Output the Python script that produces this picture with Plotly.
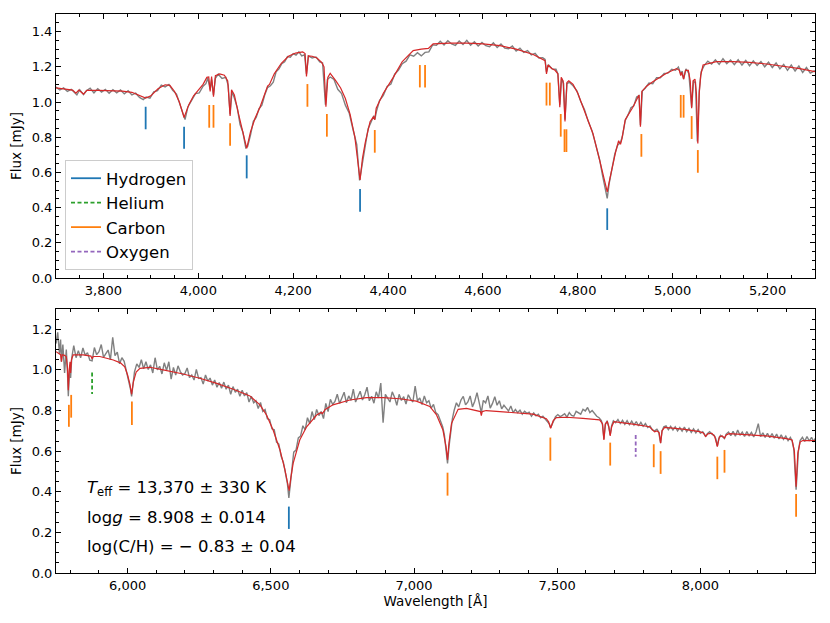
import plotly.graph_objects as go

# ---------------- top panel: model (red) ----------------
top_model_wave = [3700, 3720, 3735, 3742, 3748, 3758, 3765, 3790, 3820, 3840, 3860, 3875, 3889, 3900, 3915,
                  3930, 3940, 3950, 3960, 3970, 3980, 3990, 4000, 4010, 4018, 4022, 4025, 4028, 4032, 4036,
                  4045, 4055, 4062, 4067, 4070, 4076, 4085, 4093, 4102, 4110, 4120, 4130, 4140, 4146, 4150,
                  4160, 4175, 4190, 4205, 4220, 4225, 4228, 4232, 4240, 4250, 4260, 4265, 4269, 4273, 4278,
                  4290, 4300, 4310, 4320, 4330, 4335, 4341, 4346, 4352, 4362, 4369, 4372, 4375, 4390, 4411,
                  4430, 4453, 4470, 4485, 4495, 4530, 4566, 4600, 4636, 4670, 4706, 4727, 4731, 4734, 4737,
                  4745, 4752, 4758, 4762, 4765, 4769, 4773, 4777, 4781, 4790, 4800, 4811, 4822, 4832, 4846,
                  4855, 4862, 4868, 4874, 4880, 4886, 4890, 4893, 4900, 4916, 4927, 4929, 4932, 4935, 4945,
                  4958, 4987, 5008, 5014, 5017, 5019, 5023, 5027, 5033, 5037, 5040, 5043, 5047, 5050, 5053,
                  5056, 5059, 5064, 5092, 5127, 5162, 5198, 5233, 5268, 5300]
top_model_flux = [1.080, 1.072, 1.068, 1.050, 1.068, 1.045, 1.066, 1.066, 1.064, 1.062, 1.055, 1.040, 1.022, 1.035, 1.075,
                  1.098, 1.095, 1.060, 1.000, 0.912, 0.985, 1.035, 1.065, 1.100, 1.140, 1.142, 1.060, 1.145, 1.030, 1.150,
                  1.160, 1.152, 1.120, 0.920, 1.070, 1.040, 0.930, 0.840, 0.737, 0.830, 0.910, 0.970, 1.050, 1.090, 1.100,
                  1.160, 1.220, 1.260, 1.278, 1.285, 1.275, 1.145, 1.262, 1.260, 1.250, 1.225, 1.200, 0.973, 1.140, 1.163,
                  1.120, 1.080, 1.020, 0.930, 0.800, 0.700, 0.557, 0.680, 0.770, 0.888, 0.915, 0.900, 0.965, 1.050, 1.140,
                  1.230, 1.292, 1.300, 1.305, 1.330, 1.335, 1.335, 1.330, 1.320, 1.300, 1.270, 1.240, 1.235, 1.160, 1.210,
                  1.190, 1.180, 1.160, 0.970, 1.140, 1.120, 0.889, 1.110, 1.120, 1.100, 1.050, 0.970, 0.900, 0.820, 0.670,
                  0.570, 0.490, 0.570, 0.650, 0.720, 0.780, 0.760, 0.790, 0.900, 0.970, 1.030, 1.040, 0.860, 1.060, 1.090,
                  1.115, 1.163, 1.190, 1.180, 1.150, 1.170, 1.130, 1.180, 1.180, 1.120, 0.964, 1.120, 1.130, 1.050, 0.765,
                  1.050, 1.150, 1.210, 1.229, 1.229, 1.225, 1.216, 1.205, 1.190, 1.172]

# ---------------- top panel: observed (grey) ----------------
top_obs_wave = [3700, 3708, 3716, 3724, 3732, 3740, 3744, 3750, 3758, 3764, 3772, 3780, 3788, 3796, 3804, 3812,
                3820, 3828, 3836, 3844, 3852, 3860, 3868, 3876, 3884, 3890, 3898, 3906, 3914, 3922, 3930, 3938,
                3946, 3954, 3962, 3968, 3972, 3978, 3986, 3994, 4002, 4010, 4016, 4020, 4025, 4028, 4032, 4036,
                4042, 4050, 4058, 4063, 4067, 4071, 4076, 4082, 4088, 4094, 4100, 4104, 4110, 4116, 4122, 4128,
                4134, 4140, 4146, 4152, 4158, 4164, 4170, 4176, 4182, 4188, 4194, 4200, 4206, 4212, 4218, 4224,
                4228, 4232, 4240, 4248, 4256, 4262, 4268, 4272, 4278, 4286, 4294, 4302, 4310, 4318, 4326, 4334,
                4340, 4346, 4352, 4358, 4364, 4370, 4372, 4376, 4382, 4390, 4398, 4406, 4414, 4422, 4430, 4438,
                4446, 4454, 4462, 4470, 4478, 4486, 4494, 4502, 4510, 4518, 4526, 4534, 4542, 4550, 4558, 4566,
                4574, 4582, 4590, 4598, 4606, 4614, 4622, 4630, 4638, 4646, 4654, 4662, 4670, 4678, 4686, 4694,
                4702, 4710, 4718, 4726, 4731, 4734, 4738, 4746, 4754, 4758, 4762, 4766, 4770, 4773, 4777, 4782,
                4790, 4798, 4806, 4814, 4822, 4830, 4838, 4846, 4852, 4858, 4862, 4866, 4872, 4878, 4884, 4890,
                4894, 4900, 4906, 4912, 4918, 4924, 4929, 4932, 4936, 4942, 4950, 4958, 4966, 4974, 4982, 4990,
                4998, 5006, 5012, 5017, 5020, 5023, 5028, 5034, 5040, 5044, 5048, 5052, 5056, 5060, 5066, 5074,
                5082, 5090, 5098, 5106, 5114, 5122, 5130, 5138, 5146, 5154, 5162, 5170, 5178, 5186, 5194, 5202,
                5210, 5218, 5226, 5234, 5242, 5250, 5258, 5266, 5274, 5282, 5290, 5300]
top_obs_flux = [1.085, 1.068, 1.080, 1.060, 1.072, 1.050, 1.040, 1.070, 1.042, 1.064, 1.078, 1.052, 1.075, 1.056, 1.072, 1.050,
                1.070, 1.052, 1.068, 1.046, 1.064, 1.040, 1.050, 1.026, 1.014, 1.028, 1.022, 1.058, 1.064, 1.096, 1.086, 1.100,
                1.066, 1.045, 0.980, 0.925, 0.900, 0.972, 1.008, 1.048, 1.052, 1.090, 1.104, 1.136, 1.070, 1.128, 1.040, 1.135,
                1.158, 1.134, 1.140, 1.095, 0.930, 1.060, 1.022, 0.968, 0.872, 0.828, 0.740, 0.748, 0.812, 0.890, 0.912, 0.962,
                0.982, 1.040, 1.082, 1.092, 1.112, 1.172, 1.188, 1.218, 1.228, 1.258, 1.255, 1.275, 1.266, 1.285, 1.262, 1.268,
                1.160, 1.262, 1.250, 1.256, 1.228, 1.222, 0.985, 1.128, 1.142, 1.128, 1.072, 1.048, 0.982, 0.938, 0.845, 0.758,
                0.555, 0.668, 0.752, 0.848, 0.882, 0.922, 0.900, 0.952, 1.008, 1.038, 1.088, 1.102, 1.158, 1.182, 1.218, 1.232,
                1.268, 1.260, 1.280, 1.262, 1.282, 1.285, 1.325, 1.322, 1.345, 1.324, 1.348, 1.330, 1.322, 1.346, 1.326, 1.350,
                1.322, 1.342, 1.318, 1.338, 1.320, 1.314, 1.336, 1.310, 1.330, 1.306, 1.302, 1.318, 1.290, 1.306, 1.282, 1.292,
                1.268, 1.276, 1.250, 1.252, 1.242, 1.170, 1.212, 1.188, 1.186, 1.160, 0.985, 1.132, 1.105, 0.900, 1.104, 1.112,
                1.092, 1.064, 1.004, 0.958, 0.890, 0.836, 0.755, 0.672, 0.585, 0.512, 0.452, 0.535, 0.615, 0.705, 0.755, 0.770,
                0.805, 0.895, 0.928, 0.968, 0.978, 1.028, 1.036, 0.870, 1.062, 1.078, 1.108, 1.104, 1.138, 1.138, 1.162, 1.164,
                1.186, 1.180, 1.198, 1.160, 1.176, 1.130, 1.188, 1.162, 0.970, 1.115, 1.112, 0.775, 1.065, 1.172, 1.205, 1.232,
                1.215, 1.240, 1.214, 1.246, 1.218, 1.238, 1.212, 1.240, 1.210, 1.236, 1.206, 1.234, 1.208, 1.230, 1.200, 1.226,
                1.196, 1.222, 1.188, 1.214, 1.180, 1.210, 1.176, 1.204, 1.168, 1.196, 1.164, 1.178]

# ---------------- bottom panel: model (red) ----------------
bot_model_wave = [5750, 5760, 5766, 5769, 5772, 5780, 5786, 5790, 5793, 5796, 5799, 5801, 5804, 5810, 5845, 5872,
                  5876, 5880, 5903, 5950, 5975, 5990, 6000, 6008, 6014, 6020, 6030, 6043, 6078, 6124, 6194, 6252,
                  6311, 6369, 6427, 6462, 6485, 6508, 6532, 6549, 6558, 6564, 6570, 6578, 6601, 6625, 6660, 6675,
                  6680, 6690, 6717, 6776, 6834, 6892, 6950, 7008, 7055, 7078, 7101, 7112, 7117, 7122, 7131, 7154,
                  7183, 7218, 7232, 7235, 7238, 7252, 7299, 7357, 7415, 7462, 7470, 7477, 7486, 7497, 7532, 7590,
                  7648, 7658, 7663, 7668, 7675, 7680, 7685, 7690, 7698, 7764, 7822, 7833, 7840, 7848, 7856, 7861,
                  7866, 7875, 7939, 7997, 8010, 8018, 8026, 8040, 8050, 8059, 8066, 8076, 8084, 8090, 8100, 8171,
                  8230, 8300, 8320, 8328, 8334, 8340, 8348, 8357, 8400]
bot_model_flux = [1.090, 1.082, 1.075, 1.040, 1.075, 1.072, 1.065, 1.010, 0.900, 1.000, 1.040, 0.985, 1.050, 1.074, 1.074, 1.068,
                  1.055, 1.066, 1.066, 1.049, 1.035, 1.015, 0.975, 0.930, 0.880, 0.940, 0.990, 1.008, 1.013, 1.000, 0.980, 0.959,
                  0.934, 0.905, 0.872, 0.828, 0.778, 0.704, 0.606, 0.510, 0.450, 0.405, 0.470, 0.540, 0.655, 0.720, 0.778, 0.790,
                  0.785, 0.805, 0.828, 0.852, 0.864, 0.864, 0.858, 0.846, 0.820, 0.780, 0.704, 0.620, 0.557, 0.640, 0.737, 0.806,
                  0.811, 0.800, 0.795, 0.775, 0.795, 0.800, 0.795, 0.790, 0.782, 0.760, 0.745, 0.713, 0.750, 0.765, 0.767, 0.761,
                  0.754, 0.735, 0.655, 0.735, 0.745, 0.720, 0.675, 0.720, 0.745, 0.733, 0.720, 0.705, 0.695, 0.700, 0.690, 0.639,
                  0.700, 0.717, 0.708, 0.696, 0.690, 0.672, 0.685, 0.688, 0.672, 0.622, 0.670, 0.675, 0.665, 0.680, 0.686, 0.680,
                  0.675, 0.662, 0.655, 0.600, 0.425, 0.590, 0.645, 0.652, 0.652]

# ---------------- bottom panel: observed (grey) ----------------
bot_obs_wave = [5750, 5756, 5762, 5766, 5769, 5774, 5780, 5786, 5790, 5793, 5796, 5799, 5801, 5805, 5812, 5820,
                5828, 5836, 5844, 5852, 5860, 5868, 5876, 5884, 5892, 5900, 5908, 5916, 5924, 5932, 5940, 5948,
                5956, 5964, 5972, 5980, 5988, 5996, 6004, 6010, 6014, 6018, 6024, 6032, 6040, 6048, 6056, 6064,
                6072, 6080, 6088, 6096, 6104, 6112, 6120, 6128, 6136, 6144, 6152, 6160, 6168, 6176, 6184, 6192,
                6200, 6208, 6216, 6224, 6232, 6240, 6248, 6256, 6264, 6272, 6280, 6288, 6296, 6304, 6312, 6320,
                6328, 6336, 6344, 6352, 6360, 6368, 6376, 6384, 6392, 6400, 6408, 6416, 6424, 6432, 6440, 6448,
                6456, 6464, 6472, 6480, 6488, 6496, 6504, 6512, 6520, 6528, 6536, 6544, 6552, 6558, 6563, 6568,
                6574, 6580, 6588, 6596, 6604, 6612, 6620, 6628, 6636, 6644, 6652, 6660, 6668, 6676, 6684, 6692,
                6700, 6708, 6716, 6724, 6732, 6740, 6748, 6756, 6764, 6772, 6780, 6788, 6796, 6804, 6812, 6820,
                6828, 6836, 6844, 6852, 6860, 6868, 6876, 6884, 6892, 6900, 6908, 6916, 6924, 6932, 6940, 6948,
                6956, 6964, 6972, 6980, 6988, 6996, 7004, 7012, 7020, 7028, 7036, 7044, 7052, 7060, 7068, 7076,
                7084, 7092, 7100, 7106, 7112, 7117, 7122, 7128, 7134, 7140, 7148, 7156, 7164, 7172, 7180, 7188,
                7196, 7204, 7212, 7220, 7228, 7235, 7242, 7250, 7258, 7266, 7274, 7282, 7290, 7298, 7306, 7314,
                7322, 7330, 7338, 7346, 7354, 7362, 7370, 7378, 7386, 7394, 7402, 7410, 7418, 7426, 7434, 7442,
                7450, 7458, 7466, 7472, 7477, 7486, 7494, 7502, 7510, 7518, 7526, 7534, 7542, 7550, 7558, 7566,
                7574, 7582, 7590, 7598, 7606, 7614, 7622, 7630, 7638, 7646, 7654, 7658, 7663, 7668, 7674, 7680,
                7685, 7690, 7696, 7704, 7712, 7720, 7728, 7736, 7744, 7752, 7760, 7768, 7776, 7784, 7792, 7800,
                7808, 7816, 7824, 7832, 7840, 7848, 7854, 7861, 7866, 7872, 7880, 7888, 7896, 7904, 7912, 7920,
                7928, 7936, 7944, 7952, 7960, 7968, 7976, 7984, 7992, 8000, 8008, 8014, 8018, 8024, 8032, 8040,
                8048, 8054, 8059, 8064, 8070, 8078, 8084, 8090, 8098, 8106, 8114, 8122, 8130, 8138, 8146, 8154,
                8162, 8170, 8178, 8186, 8194, 8202, 8210, 8218, 8226, 8234, 8242, 8250, 8258, 8266, 8274, 8282,
                8290, 8298, 8306, 8314, 8320, 8326, 8331, 8334, 8337, 8342, 8348, 8356, 8364, 8372, 8380, 8388,
                8396, 8400]
bot_obs_flux = [1.130, 1.185, 1.080, 1.150, 1.040, 1.125, 0.985, 1.100, 0.990, 0.870, 0.960, 1.020, 0.960, 1.060, 1.120, 1.060,
                1.095, 1.060, 1.108, 1.072, 1.085, 1.048, 1.045, 1.110, 1.075, 1.090, 1.125, 1.062, 1.080, 1.098, 1.050, 1.160,
                1.070, 1.088, 1.030, 1.060, 1.042, 0.995, 0.945, 0.905, 0.870, 0.925, 0.990, 1.030, 1.012, 1.050, 1.005, 1.040,
                1.002, 1.025, 0.985, 1.060, 1.000, 1.018, 0.980, 1.035, 0.998, 1.040, 0.955, 1.012, 0.975, 1.020, 0.992, 0.975,
                0.982, 1.010, 0.962, 0.975, 0.950, 1.002, 0.958, 0.962, 0.930, 0.975, 0.945, 0.960, 0.925, 0.950, 0.915, 0.938,
                0.910, 0.940, 0.905, 0.925, 0.880, 0.918, 0.890, 0.905, 0.870, 0.900, 0.872, 0.888, 0.842, 0.870, 0.838, 0.848,
                0.810, 0.840, 0.795, 0.805, 0.760, 0.755, 0.710, 0.705, 0.645, 0.635, 0.575, 0.545, 0.485, 0.440, 0.370, 0.440,
                0.520, 0.595, 0.605, 0.665, 0.675, 0.725, 0.705, 0.765, 0.735, 0.795, 0.755, 0.805, 0.775, 0.795, 0.760, 0.835,
                0.795, 0.855, 0.830, 0.845, 0.880, 0.835, 0.862, 0.890, 0.838, 0.872, 0.850, 0.905, 0.842, 0.868, 0.895, 0.852,
                0.878, 0.915, 0.848, 0.870, 0.836, 0.892, 0.862, 0.935, 0.740, 0.880, 0.858, 0.842, 0.892, 0.866, 0.826, 0.880,
                0.850, 0.868, 0.832, 0.878, 0.856, 0.842, 0.920, 0.848, 0.862, 0.830, 0.872, 0.838, 0.848, 0.812, 0.830, 0.790,
                0.780, 0.745, 0.720, 0.680, 0.600, 0.540, 0.620, 0.700, 0.760, 0.800, 0.838, 0.818, 0.852, 0.870, 0.828, 0.842,
                0.872, 0.818, 0.846, 0.888, 0.830, 0.790, 0.850, 0.838, 0.872, 0.812, 0.835, 0.868, 0.826, 0.848, 0.808, 0.826,
                0.812, 0.798, 0.822, 0.790, 0.805, 0.790, 0.802, 0.782, 0.796, 0.786, 0.792, 0.772, 0.788, 0.774, 0.782, 0.764,
                0.772, 0.758, 0.748, 0.735, 0.715, 0.748, 0.770, 0.780, 0.770, 0.776, 0.784, 0.768, 0.790, 0.776, 0.772, 0.796,
                0.788, 0.782, 0.806, 0.798, 0.815, 0.790, 0.800, 0.784, 0.772, 0.765, 0.750, 0.730, 0.660, 0.730, 0.750, 0.720,
                0.680, 0.725, 0.750, 0.740, 0.756, 0.736, 0.752, 0.732, 0.750, 0.730, 0.748, 0.728, 0.746, 0.724, 0.742, 0.722,
                0.736, 0.716, 0.724, 0.705, 0.700, 0.708, 0.695, 0.640, 0.700, 0.720, 0.724, 0.706, 0.722, 0.704, 0.720, 0.700,
                0.716, 0.698, 0.718, 0.696, 0.712, 0.692, 0.710, 0.690, 0.706, 0.688, 0.696, 0.684, 0.672, 0.686, 0.696, 0.684,
                0.678, 0.660, 0.625, 0.660, 0.678, 0.670, 0.662, 0.684, 0.694, 0.676, 0.698, 0.674, 0.704, 0.678, 0.694, 0.672,
                0.696, 0.676, 0.692, 0.670, 0.694, 0.735, 0.672, 0.690, 0.668, 0.688, 0.666, 0.686, 0.664, 0.684, 0.660, 0.680,
                0.658, 0.674, 0.652, 0.668, 0.650, 0.610, 0.480, 0.410, 0.480, 0.600, 0.652, 0.668, 0.648, 0.672, 0.650, 0.668,
                0.646, 0.662]

# ---------------- line identification markers ----------------
top_H_wave = [3889, 3970, 4102, 4341, 4862]
top_H_top = [0.973, 0.860, 0.697, 0.506, 0.396]
top_H_bot = [0.845, 0.735, 0.566, 0.377, 0.273]

top_C_wave = [4023, 4032, 4067, 4230, 4271, 4372, 4467, 4478, 4734, 4741, 4764, 4772, 4776, 4934, 5017, 5023, 5040, 5053]
top_C_top = [0.983, 0.983, 0.879, 1.102, 0.932, 0.841, 1.210, 1.210, 1.110, 1.110, 0.932, 0.845, 0.845, 0.818, 1.040, 1.040, 0.920, 0.727]
top_C_bot = [0.854, 0.854, 0.752, 0.973, 0.803, 0.712, 1.083, 1.083, 0.980, 0.980, 0.803, 0.716, 0.716, 0.689, 0.911, 0.911, 0.790, 0.598]

bot_H_wave = [6563]
bot_H_top = [0.327]
bot_H_bot = [0.217]

bot_He_wave = [5876]
bot_He_top = [0.987]
bot_He_bot = [0.882]

bot_C_wave = [5795, 5803, 6015, 7117, 7476, 7685, 7837, 7861, 8059, 8084, 8334]
bot_C_top = [0.828, 0.877, 0.844, 0.494, 0.667, 0.642, 0.634, 0.600, 0.573, 0.606, 0.389]
bot_C_bot = [0.720, 0.765, 0.729, 0.381, 0.553, 0.529, 0.521, 0.488, 0.462, 0.494, 0.277]

bot_O_wave = [7774]
bot_O_top = [0.680]
bot_O_bot = [0.573]

fit_text = ["<i>T</i><sub>eff</sub> = 13,370 ± 330 K",
            "log<i>g</i> = 8.908 ± 0.014",
            "log(C/H) = − 0.83 ± 0.04"]

# ---------------- styling ----------------
FONT = "DejaVu Sans"
C_H, C_He, C_C, C_O = "#1f77b4", "#2ca02c", "#ff7f0e", "#9467bd"
GREY, RED = "#808080", "#d62728"

# page (screenshot) geometry of the plotting areas
PAGE_OFF = 8                      # default body margin of the html page
P_LEFT, P_RIGHT = 56, 815.5
P_TOP1, P_BOT1 = 14, 278
P_TOP2, P_BOT2 = 309, 573
W, H = 814, 607
ML = P_LEFT - PAGE_OFF
MR = W - (P_RIGHT - PAGE_OFF)
MT = P_TOP1 - PAGE_OFF
MB = H - (P_BOT2 - PAGE_OFF)
plot_w = P_RIGHT - P_LEFT
plot_h = P_BOT2 - P_TOP1
top_dom = [(P_BOT2 - P_BOT1) / plot_h, 1.0]
bot_dom = [0.0, (P_BOT2 - P_TOP2) / plot_h]


def segs(waves, tops, bots):
    xs, ys = [], []
    for w, t, b in zip(waves, tops, bots):
        xs += [w, w, None]
        ys += [t, b, None]
    return xs, ys


fig = go.Figure()

# spectra
fig.add_trace(go.Scatter(x=top_obs_wave, y=top_obs_flux, mode="lines", line=dict(color=GREY, width=1.4),
                         showlegend=False, xaxis="x", yaxis="y"))
fig.add_trace(go.Scatter(x=top_model_wave, y=top_model_flux, mode="lines", line=dict(color=RED, width=1.2),
                         showlegend=False, xaxis="x", yaxis="y"))
fig.add_trace(go.Scatter(x=bot_obs_wave, y=bot_obs_flux, mode="lines", line=dict(color=GREY, width=1.4),
                         showlegend=False, xaxis="x2", yaxis="y2"))
fig.add_trace(go.Scatter(x=bot_model_wave, y=bot_model_flux, mode="lines", line=dict(color=RED, width=1.2),
                         showlegend=False, xaxis="x2", yaxis="y2"))

# markers
x, y = segs(top_H_wave, top_H_top, top_H_bot)
fig.add_trace(go.Scatter(x=x, y=y, mode="lines", line=dict(color=C_H, width=1.8), name="Hydrogen",
                         legendgroup="H", legendrank=1, xaxis="x", yaxis="y"))
x, y = segs(bot_H_wave, bot_H_top, bot_H_bot)
fig.add_trace(go.Scatter(x=x, y=y, mode="lines", line=dict(color=C_H, width=1.8), name="Hydrogen",
                         legendgroup="H", showlegend=False, xaxis="x2", yaxis="y2"))
x, y = segs(bot_He_wave, bot_He_top, bot_He_bot)
fig.add_trace(go.Scatter(x=x, y=y, mode="lines", line=dict(color=C_He, width=1.8, dash="4px,2.5px"), name="Helium",
                         legendgroup="He", legendrank=2, xaxis="x2", yaxis="y2"))
x, y = segs(top_C_wave, top_C_top, top_C_bot)
fig.add_trace(go.Scatter(x=x, y=y, mode="lines", line=dict(color=C_C, width=1.8), name="Carbon",
                         legendgroup="C", legendrank=3, xaxis="x", yaxis="y"))
x, y = segs(bot_C_wave, bot_C_top, bot_C_bot)
fig.add_trace(go.Scatter(x=x, y=y, mode="lines", line=dict(color=C_C, width=1.8), name="Carbon",
                         legendgroup="C", showlegend=False, xaxis="x2", yaxis="y2"))
x, y = segs(bot_O_wave, bot_O_top, bot_O_bot)
fig.add_trace(go.Scatter(x=x, y=y, mode="lines", line=dict(color=C_O, width=1.8, dash="4px,2.5px"), name="Oxygen",
                         legendgroup="O", legendrank=4, xaxis="x2", yaxis="y2"))

axis_common = dict(showline=True, linecolor="black", linewidth=1.1, mirror="allticks", ticks="inside",
                   ticklen=5, tickwidth=1, tickcolor="black", showgrid=False, zeroline=False,
                   tickfont=dict(family=FONT, size=13, color="black"))

fig.update_layout(
    width=W, height=H,
    margin=dict(l=ML, r=MR, t=MT, b=MB),
    paper_bgcolor="white", plot_bgcolor="white",
    font=dict(family=FONT, size=13, color="black"),
    hovermode=False,
    xaxis=dict(axis_common, domain=[0, 1], anchor="y", range=[3700, 5300], dtick=200, tick0=0,
               tickformat=",d", minor=dict(ticks="inside", ticklen=3, dtick=50, tick0=0, tickcolor="black")),
    yaxis=dict(axis_common, domain=top_dom, anchor="x", range=[0, 1.5], dtick=0.2, tick0=0, tickformat=".1f",
               minor=dict(ticks="inside", ticklen=3, dtick=0.05, tick0=0, tickcolor="black"),
               title=dict(text="Flux [mJy]", font=dict(family=FONT, size=13.5), standoff=6)),
    xaxis2=dict(axis_common, domain=[0, 1], anchor="y2", range=[5750, 8400], dtick=500, tick0=0,
                tickformat=",d", minor=dict(ticks="inside", ticklen=3, dtick=100, tick0=0, tickcolor="black"),
                title=dict(text="Wavelength [Å]", font=dict(family=FONT, size=13.5), standoff=4)),
    yaxis2=dict(axis_common, domain=bot_dom, anchor="x2", range=[0, 1.3], dtick=0.2, tick0=0, tickformat=".1f",
                minor=dict(ticks="inside", ticklen=3, dtick=0.05, tick0=0, tickcolor="black"),
                title=dict(text="Flux [mJy]", font=dict(family=FONT, size=13.5), standoff=6)),
    legend=dict(x=(65 - P_LEFT) / plot_w, y=(P_BOT2 - 160) / plot_h, xanchor="left", yanchor="top",
                bgcolor="rgba(255,255,255,0.8)", bordercolor="#cccccc", borderwidth=1,
                font=dict(family=FONT, size=16.5, color="black"), traceorder="grouped", tracegroupgap=0),
)

for txt, py in zip(fit_text, [488, 517, 546]):
    fig.add_annotation(text=txt, xref="paper", yref="paper", x=(85 - P_LEFT) / plot_w,
                       y=(P_BOT2 - py) / plot_h, xanchor="left", yanchor="middle", showarrow=False,
                       font=dict(family=FONT, size=16.5, color="black"))

fig.write_html("out.html")
